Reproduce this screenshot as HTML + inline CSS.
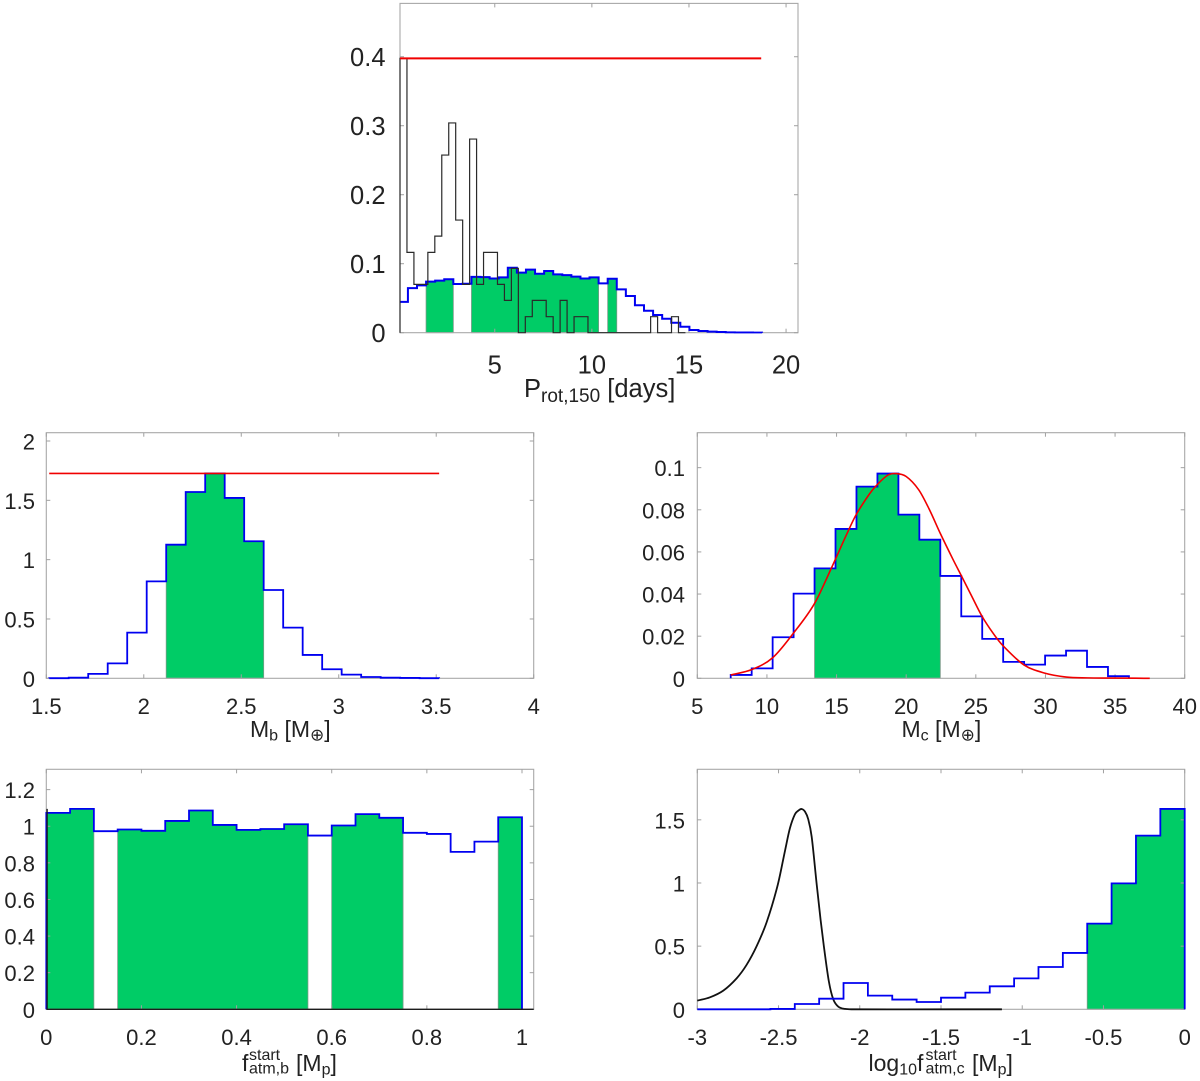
<!DOCTYPE html>
<html lang="en">
<head>
<meta charset="utf-8">
<title>Posterior distributions</title>
<style>
html,body{margin:0;padding:0;background:#fff;width:1200px;height:1081px;overflow:hidden}
svg{display:block}
text{font-family:"Liberation Sans","DejaVu Sans",sans-serif;fill:#222}
</style>
</head>
<body>
<svg id="figure" xmlns="http://www.w3.org/2000/svg" width="1200" height="1081" viewBox="0 0 1200 1081">
  <defs>
    <clipPath id="rot-clip"><rect x="400" y="3.4" width="398" height="330"/></clipPath>
  </defs>
  <g id="panel-rot"></g>
  <g id="panel-mb"></g>
  <g id="panel-mc"></g>
  <g id="panel-fb"></g>
  <g id="panel-fc"></g>

  <text x="524" y="397" font-size="25.5">P<tspan font-size="19" dy="5">rot,150</tspan><tspan dy="-5"> [days]</tspan></text>
  <text x="250" y="737" font-size="23">M<tspan font-size="16" dy="3.5">b</tspan><tspan dy="-3.5"> [M</tspan><tspan font-size="17" dy="3.5">⊕</tspan><tspan dy="-3.5">]</tspan></text>
  <text x="901.5" y="737" font-size="23">M<tspan font-size="16" dy="3.5">c</tspan><tspan dy="-3.5"> [M</tspan><tspan font-size="17" dy="3.5">⊕</tspan><tspan dy="-3.5">]</tspan></text>

  <g>
    <text x="242" y="1071" font-size="23">f</text>
    <text x="249" y="1060" font-size="16">start</text>
    <text x="249" y="1073.5" font-size="16">atm,b</text>
    <text x="296" y="1071" font-size="23">[M<tspan font-size="16" dy="3.5">p</tspan><tspan dy="-3.5">]</tspan></text>
  </g>
  <g>
    <text x="868.5" y="1071" font-size="23">log<tspan font-size="16" dy="3.5">10</tspan><tspan dy="-3.5">f</tspan></text>
    <text x="925.5" y="1060" font-size="16">start</text>
    <text x="925.5" y="1073.5" font-size="16">atm,c</text>
    <text x="972" y="1071" font-size="23">[M<tspan font-size="16" dy="3.5">p</tspan><tspan dy="-3.5">]</tspan></text>
  </g>
</svg>

<script>
// ---------- rotation-period panel data ----------
const rotXTicks = [5, 10, 15, 20];
const rotYTicks = [0, 0.1, 0.2, 0.3, 0.4];
const rotBlueBinStart = 0.06;
const rotBlueBinWidth = 0.4676;
const rotBlueValues = [0.0447, 0.0646, 0.0686, 0.074, 0.0755, 0.0775, 0.0706, 0.071, 0.081, 0.0805, 0.0785, 0.0802, 0.0942, 0.087, 0.0914, 0.0855, 0.0894, 0.0845, 0.0835, 0.0812, 0.0785, 0.0802, 0.0715, 0.0782, 0.0628, 0.0532, 0.0398, 0.0318, 0.0256, 0.0203, 0.0145, 0.0087, 0.0039, 0.0024, 0.0015, 0.001, 0.0004, 0.0003, 0.0002, 0.0001];
const rotShadedBins = [3, 4, 5, 8, 9, 10, 11, 12, 13, 14, 15, 16, 17, 18, 19, 20, 21, 23];
const rotBlackBinStart = 0.12;
const rotBlackBinWidth = 0.3585;
const rotBlackValues = [0.3976, 0.1164, 0.07, 0.07, 0.1164, 0.14, 0.2575, 0.304, 0.1633, 0.07, 0.2807, 0.07, 0.1164, 0.1164, 0.07, 0.0469, 0.0932, 0, 0.0232, 0.0469, 0.0469, 0.0232, 0, 0.0469, 0, 0.0232, 0.0232, 0, 0, 0, 0, 0, 0, 0, 0, 0, 0.0232, 0, 0, 0.0232, 0];
const rotRedLevel = 0.3976;
const rotRedStart = 0.12;
const rotRedEnd = 18.72;

// ---------- planet b mass panel data ----------
const mbXTicks = [1.5, 2, 2.5, 3, 3.5, 4];
const mbYTicks = [0, 0.5, 1, 1.5, 2];
const mbBinStart = 1.515;
const mbBinWidth = 0.1;
const mbValues = [0.001, 0.005, 0.037, 0.126, 0.385, 0.817, 1.126, 1.57, 1.727, 1.52, 1.155, 0.744, 0.427, 0.197, 0.076, 0.031, 0.011, 0.005, 0.003, 0.001];
const mbShadedBins = [6, 7, 8, 9, 10];
const mbRedLevel = 1.727;
const mbRedEnd = 3.515;

// ---------- planet c mass panel data ----------
const mcXTicks = [5, 10, 15, 20, 25, 30, 35, 40];
const mcYTicks = [0, 0.02, 0.04, 0.06, 0.08, 0.1];
const mcBinStart = 7.4;
const mcBinWidth = 1.505;
const mcValues = [0.0016, 0.0047, 0.0195, 0.0402, 0.0522, 0.0709, 0.091, 0.0972, 0.0777, 0.0658, 0.0486, 0.0294, 0.0187, 0.0078, 0.0065, 0.0108, 0.0131, 0.0054, 0.001];
const mcShadedBins = [4, 5, 6, 7, 8, 9];
const mcCurveX = [7.4, 8.9, 10.4, 11.9, 13.4, 14.62, 15.7, 16.4, 17.36, 17.9, 18.67, 19.27, 20, 20.9, 21.66, 22.47, 23.38, 23.97, 24.69, 25.45, 26.24, 26.96, 28.47, 29.98, 31.49, 33, 34.5, 37.49];
const mcCurveY = [0.0016, 0.0041, 0.0097, 0.0214, 0.0353, 0.0522, 0.068, 0.0776, 0.0875, 0.0918, 0.0964, 0.0972, 0.0958, 0.0895, 0.0802, 0.0685, 0.0562, 0.0486, 0.0392, 0.0294, 0.0214, 0.0154, 0.0063, 0.0024, 0.0006, 0.0002, 0.0001, 0];

// ---------- planet b atmosphere panel data ----------
const fbXTicks = [0, 0.2, 0.4, 0.6, 0.8, 1];
const fbYTicks = [0, 0.2, 0.4, 0.6, 0.8, 1, 1.2];
const fbBinStart = 0;
const fbBinWidth = 0.05;
const fbValues = [1.073, 1.095, 0.973, 0.982, 0.975, 1.029, 1.086, 1.007, 0.98, 0.985, 1.011, 0.949, 1.004, 1.066, 1.046, 0.964, 0.958, 0.86, 0.916, 1.049];
const fbShadedBins = [0, 1, 3, 4, 5, 6, 7, 8, 9, 10, 12, 13, 14, 19];
const fbBlackEdgeHeight = 1.095;

// ---------- planet c atmosphere panel data ----------
const fcXTicks = [-3, -2.5, -2, -1.5, -1, -0.5, 0];
const fcYTicks = [0, 0.5, 1, 1.5];
const fcBinStart = -3;
const fcBinWidth = 0.15;
const fcValues = [0, 0, 0, 0.003, 0.042, 0.084, 0.208, 0.108, 0.077, 0.058, 0.092, 0.132, 0.182, 0.245, 0.335, 0.446, 0.678, 0.997, 1.375, 1.586];
const fcShadedBins = [16, 17, 18, 19];
const fcCurveX = [-3, -2.922, -2.84, -2.758, -2.697, -2.635, -2.573, -2.505, -2.46, -2.43, -2.399, -2.378, -2.358, -2.337, -2.317, -2.296, -2.266, -2.241, -2.221, -2.19, -2.163, -2.132, -2.091, -2.04, -1.125];
const fcCurveY = [0.0686, 0.095, 0.148, 0.245, 0.351, 0.499, 0.69, 0.984, 1.256, 1.433, 1.544, 1.573, 1.586, 1.565, 1.504, 1.366, 1, 0.707, 0.499, 0.219, 0.079, 0.021, 0.003, 0, 0];

// ---------- drawing ----------
const NS = 'http://www.w3.org/2000/svg';
const GREEN = '#00cc66';
const BLUE = '#0000f0';

function make(parent, tag, attrs) {
  const node = document.createElementNS(NS, tag);
  for (const key in attrs) node.setAttribute(key, attrs[key]);
  parent.appendChild(node);
  return node;
}
function scale(domain, range) {
  return v => range[0] + (v - domain[0]) / (domain[1] - domain[0]) * (range[1] - range[0]);
}
function fmt(n) { return n.toFixed(2); }

function drawAxes(g, box, sx, sy, xTicks, yTicks, fontSize, xLabelY, yLabelX, yOffset) {
  const frame = make(g, 'rect', {x: box.l, y: box.t, width: box.r - box.l, height: box.b - box.t, fill: 'none', stroke: '#a8a8a8', 'stroke-width': 1.1});
  
  
  xTicks.forEach(v => {
    const px = sx(v);
    const bottomTick = make(g, 'line', {x1: px, x2: px, y1: box.b, y2: box.b - 4, stroke: '#a0a0a0', 'stroke-width': 1});
    
    
    const topTick = make(g, 'line', {x1: px, x2: px, y1: box.t, y2: box.t + 4, stroke: '#a0a0a0', 'stroke-width': 1});
    
    
    const label = make(g, 'text', {x: px, y: xLabelY, 'font-size': fontSize, 'text-anchor': 'middle'});
    label.textContent = String(v);
    
    
  });
  yTicks.forEach(v => {
    const py = sy(v);
    const leftTick = make(g, 'line', {x1: box.l, x2: box.l + 4, y1: py, y2: py, stroke: '#a0a0a0', 'stroke-width': 1});
    
    
    const rightTick = make(g, 'line', {x1: box.r, x2: box.r - 4, y1: py, y2: py, stroke: '#a0a0a0', 'stroke-width': 1});
    
    
    const label = make(g, 'text', {x: yLabelX, y: py + yOffset, 'font-size': fontSize, 'text-anchor': 'end'});
    label.textContent = String(v);
    
    
  });
}

function drawShaded(g, sx, sy, start, width, values, bins) {
  let i = 0;
  while (i < bins.length) {
    let j = i;
    while (j + 1 < bins.length && bins[j + 1] === bins[j] + 1) j++;
    let d = 'M' + fmt(sx(start + bins[i] * width)) + ',' + fmt(sy(0));
    for (let k = i; k <= j; k++) {
      const b = bins[k];
      d += 'L' + fmt(sx(start + b * width)) + ',' + fmt(sy(values[b]));
      d += 'L' + fmt(sx(start + (b + 1) * width)) + ',' + fmt(sy(values[b]));
    }
    d += 'L' + fmt(sx(start + (bins[j] + 1) * width)) + ',' + fmt(sy(0)) + 'Z';
    const region = make(g, 'path', {d: d, fill: GREEN, stroke: '#7a9a88', 'stroke-width': 0.8});
    
    
    i = j + 1;
  }
}

function stepPath(sx, sy, start, width, values, dropAtStart) {
  let d = dropAtStart
    ? 'M' + fmt(sx(start)) + ',' + fmt(sy(0)) + 'L' + fmt(sx(start)) + ',' + fmt(sy(values[0]))
    : 'M' + fmt(sx(start)) + ',' + fmt(sy(values[0]));
  values.forEach((v, i) => {
    d += 'L' + fmt(sx(start + i * width)) + ',' + fmt(sy(v));
    d += 'L' + fmt(sx(start + (i + 1) * width)) + ',' + fmt(sy(v));
  });
  d += 'L' + fmt(sx(start + values.length * width)) + ',' + fmt(sy(0));
  return d;
}

function drawStep(g, sx, sy, start, width, values, color, strokeWidth, name, dropAtStart) {
  const line = make(g, 'path', {d: stepPath(sx, sy, start, width, values, dropAtStart), fill: 'none', stroke: color, 'stroke-width': strokeWidth, 'stroke-linejoin': 'miter'});
  
  
  return line;
}

function drawLevel(g, sx, sy, x0, x1, level, strokeWidth) {
  const line = make(g, 'line', {x1: sx(x0), x2: sx(x1), y1: sy(level), y2: sy(level), stroke: '#f00000', 'stroke-width': strokeWidth});
  
  
}

function drawCurve(g, sx, sy, xs, ys, color, strokeWidth, name) {
  const pts = xs.map((x, i) => [sx(x), sy(ys[i])]);
  const slopes = pts.map((p, i) => {
    const a = pts[Math.max(i - 1, 0)], b = pts[Math.min(i + 1, pts.length - 1)];
    return (b[1] - a[1]) / (b[0] - a[0]);
  });
  let d = 'M' + fmt(pts[0][0]) + ',' + fmt(pts[0][1]);
  for (let i = 0; i < pts.length - 1; i++) {
    const dx = pts[i + 1][0] - pts[i][0];
    d += 'C' + fmt(pts[i][0] + dx / 3) + ',' + fmt(pts[i][1] + slopes[i] * dx / 3) + ' '
      + fmt(pts[i + 1][0] - dx / 3) + ',' + fmt(pts[i + 1][1] - slopes[i + 1] * dx / 3) + ' '
      + fmt(pts[i + 1][0]) + ',' + fmt(pts[i + 1][1]);
  }
  const line = make(g, 'path', {d: d, fill: 'none', stroke: color, 'stroke-width': strokeWidth});
  
  
}

// rotation period
(function () {
  const g = document.getElementById('panel-rot');
  const box = {l: 400, r: 798, t: 3.4, b: 332.7};
  const sx = scale([0.12, 20.615], [box.l, box.r]);
  const sy = scale([0, 0.4773], [box.b, box.t]);
  const clip = make(g, 'g', {'clip-path': 'url(#rot-clip)'});
  
  
  drawShaded(clip, sx, sy, rotBlueBinStart, rotBlueBinWidth, rotBlueValues, rotShadedBins);
  drawAxes(g, box, sx, sy, rotXTicks, rotYTicks, 25.5, 373.5, 385.5, 9.2);
  drawStep(g, sx, sy, rotBlueBinStart, rotBlueBinWidth, rotBlueValues, BLUE, 2, 'blue-posterior-histogram', false)
    .setAttribute('clip-path', 'url(#rot-clip)');
  drawStep(g, sx, sy, rotBlackBinStart, rotBlackBinWidth, rotBlackValues, '#2a2a2a', 1.2, 'black-prior-histogram', true);
  drawLevel(g, sx, sy, rotRedStart, rotRedEnd, rotRedLevel, 2);
})();

// planet b mass
(function () {
  const g = document.getElementById('panel-mb');
  const box = {l: 46.3, r: 533.7, t: 432.7, b: 678.3};
  const sx = scale([1.5, 4], [box.l, box.r]);
  const sy = scale([0, 2.07], [box.b, box.t]);
  drawShaded(g, sx, sy, mbBinStart, mbBinWidth, mbValues, mbShadedBins);
  drawAxes(g, box, sx, sy, mbXTicks, mbYTicks, 22, 714, 35, 8.5);
  drawStep(g, sx, sy, mbBinStart, mbBinWidth, mbValues, BLUE, 1.8, 'blue-posterior-histogram', true);
  drawLevel(g, sx, sy, mbBinStart, mbRedEnd, mbRedLevel, 1.6);
})();

// planet c mass
(function () {
  const g = document.getElementById('panel-mc');
  const box = {l: 697.3, r: 1184.7, t: 432.7, b: 678.3};
  const sx = scale([5, 40], [box.l, box.r]);
  const sy = scale([0, 0.1166], [box.b, box.t]);
  drawShaded(g, sx, sy, mcBinStart, mcBinWidth, mcValues, mcShadedBins);
  drawAxes(g, box, sx, sy, mcXTicks, mcYTicks, 22, 714, 685, 8.5);
  drawStep(g, sx, sy, mcBinStart, mcBinWidth, mcValues, BLUE, 1.8, 'blue-posterior-histogram', true);
  drawCurve(g, sx, sy, mcCurveX, mcCurveY, '#f00000', 1.6, 'red-gaussian-curve');
})();

// planet b atmosphere
(function () {
  const g = document.getElementById('panel-fb');
  const box = {l: 46.3, r: 533.7, t: 769.3, b: 1009.3};
  const sx = scale([0, 1.0246], [box.l, box.r]);
  const sy = scale([0, 1.311], [box.b, box.t]);
  drawShaded(g, sx, sy, fbBinStart, fbBinWidth, fbValues, fbShadedBins);
  drawAxes(g, box, sx, sy, fbXTicks, fbYTicks, 22, 1045, 35, 8.5);
  drawStep(g, sx, sy, fbBinStart, fbBinWidth, fbValues, BLUE, 1.8, 'blue-posterior-histogram', true);
  const black = make(g, 'path', {d: 'M' + fmt(sx(0) + 0.8) + ',' + fmt(sy(fbBlackEdgeHeight)) + 'L' + fmt(sx(0) + 0.8) + ',' + fmt(sy(0)) + 'L' + fmt(box.r) + ',' + fmt(sy(0)), fill: 'none', stroke: '#1c1c1c', 'stroke-width': 1.4});
  
  
})();

// planet c atmosphere
(function () {
  const g = document.getElementById('panel-fc');
  const box = {l: 697.3, r: 1184.7, t: 769.3, b: 1009.3};
  const sx = scale([-3, 0], [box.l, box.r]);
  const sy = scale([0, 1.9], [box.b, box.t]);
  drawShaded(g, sx, sy, fcBinStart, fcBinWidth, fcValues, fcShadedBins);
  drawAxes(g, box, sx, sy, fcXTicks, fcYTicks, 22, 1045, 685, 8.5);
  drawCurve(g, sx, sy, fcCurveX, fcCurveY, '#111111', 1.8, 'black-prior-curve');
  drawStep(g, sx, sy, fcBinStart, fcBinWidth, fcValues, BLUE, 1.8, 'blue-posterior-histogram', true);
})();
</script>
</body>
</html>
